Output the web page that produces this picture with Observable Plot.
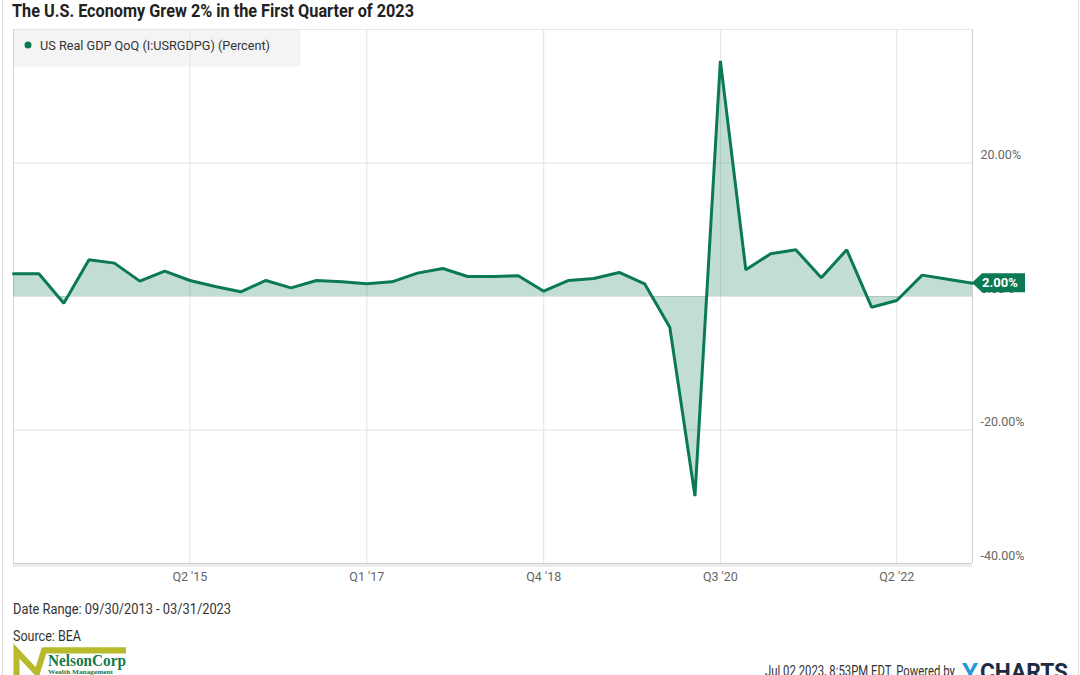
<!DOCTYPE html>
<html><head><meta charset="utf-8">
<script src="https://cdn.jsdelivr.net/npm/d3@7"></script>
<script src="https://cdn.jsdelivr.net/npm/@observablehq/plot@0.6"></script>
<style>
html,body{margin:0;padding:0;background:#fff;}
body{width:1080px;height:675px;position:relative;overflow:hidden;font-family:Roboto,sans-serif;}
.edge{position:absolute;top:0;width:1px;height:675px;background:#dcdcdc;}
#title{position:absolute;left:0;top:0;}
#chart{position:absolute;left:0;top:22px;}
#footer{position:absolute;left:0;top:590px;}
</style>
</head><body>
<div class="edge" style="left:2px"></div>
<div class="edge" style="left:1078px"></div>
<svg id="title" width="1080" height="22"></svg>
<div id="chart"></div>
<svg id="footer" width="1080" height="85"></svg>
<script>
// ---- data ----
const titleText = "The U.S. Economy Grew 2% in the First Quarter of 2023";
const seriesName = "US Real GDP QoQ (I:USRGDPG) (Percent)";
const dates = [
  "2013-09-30","2013-12-31",
  "2014-03-31","2014-06-30","2014-09-30","2014-12-31",
  "2015-03-31","2015-06-30","2015-09-30","2015-12-31",
  "2016-03-31","2016-06-30","2016-09-30","2016-12-31",
  "2017-03-31","2017-06-30","2017-09-30","2017-12-31",
  "2018-03-31","2018-06-30","2018-09-30","2018-12-31",
  "2019-03-31","2019-06-30","2019-09-30","2019-12-31",
  "2020-03-31","2020-06-30","2020-09-30","2020-12-31",
  "2021-03-31","2021-06-30","2021-09-30","2021-12-31",
  "2022-03-31","2022-06-30","2022-09-30","2022-12-31",
  "2023-03-31"
];
const values = [
  3.4, 3.4,
  -1.0, 5.5, 5.0, 2.3,
  3.8, 2.4, 1.5, 0.7,
  2.4, 1.3, 2.4, 2.2,
  1.9, 2.2, 3.5, 4.2,
  3.0, 3.0, 3.1, 0.8,
  2.4, 2.7, 3.6, 1.9,
  -4.6, -29.9, 35.3, 4.0,
  6.4, 7.0, 2.8, 7.0,
  -1.6, -0.6, 3.2, 2.6,
  2.0
];
const xTickDates = ["2015-06-30","2017-03-31","2018-12-31","2020-09-30","2022-06-30"];
const xTickLabels = ["Q2 '15","Q1 '17","Q4 '18","Q3 '20","Q2 '22"];
const yTicks = [20, 0, -20, -40];
const yDomain = [-40, 40];
const dateRangeText = "Date Range: 09/30/2013 - 03/31/2023";
const sourceText = "Source: BEA";
const stampText = "Jul 02 2023, 8:53PM EDT.  Powered by";

const GREEN = "#0b7a52";

const data = dates.map((d, i) => ({date: new Date(d), value: values[i]}));
const tickDates = xTickDates.map(d => new Date(d));
const tickLabelMap = new Map(tickDates.map((d, i) => [+d, xTickLabels[i]]));
const last = data[data.length - 1];

// ---- helper for condensed-looking text ----
function addText(svg, txt, o) {
  const t = svg.append("text").attr("x", o.x).attr("y", o.y)
    .attr("text-anchor", "start")
    .attr("font-family", o.family || "Roboto")
    .attr("font-size", o.size).attr("font-weight", o.weight || "normal")
    .attr("fill", o.fill || "#333").text(txt);
  if (o.length) t.attr("textLength", o.length).attr("lengthAdjust", "spacingAndGlyphs");
  return t;
}

// ---- title ----
addText(d3.select("#title"), titleText, {x: 12, y: 17, size: 18, weight: "bold", fill: "#222", length: 402});

// ---- legend (drawn inside the plot frame, below the grid) ----
function legendBox(index, scales, values, dim) {
  const g = d3.create("svg:g");
  g.append("rect").attr("x", dim.marginLeft + 0.5).attr("y", dim.marginTop + 0.5)
    .attr("width", 287).attr("height", 37).attr("fill", "#f4f4f4");
  return g.node();
}
function legendText(index, scales, values, dim) {
  const g = d3.create("svg:g").attr("text-anchor", "start");
  g.append("circle").attr("cx", dim.marginLeft + 15).attr("cy", dim.marginTop + 16)
    .attr("r", 3.5).attr("fill", GREEN);
  g.append("text").attr("x", dim.marginLeft + 27).attr("y", dim.marginTop + 16)
    .attr("dy", "0.35em").attr("text-anchor", "start")
    .attr("font-size", 13).attr("fill", "#333")
    .attr("textLength", 230).attr("lengthAdjust", "spacingAndGlyphs")
    .text(seriesName);
  return g.node();
}
// ---- last-value tag ----
function lastTag(index, scales) {
  const x = scales.x(last.date), y = scales.y(last.value);
  const g = d3.create("svg:g");
  g.append("path")
    .attr("d", `M${x},${y} L${x + 10},${y - 9.5} L${x + 53},${y - 9.5} L${x + 53},${y + 9.5} L${x + 10},${y + 9.5} Z`)
    .attr("fill", GREEN);
  g.append("text").attr("x", x + 28).attr("y", y).attr("dy", "0.36em")
    .attr("text-anchor", "middle").attr("fill", "#fff")
    .attr("font-size", 13).attr("font-weight", "bold")
    .text(last.value.toFixed(2) + "%");
  return g.node();
}

const chart = Plot.plot({
  width: 1080,
  height: 568,
  marginLeft: 13,
  marginRight: 108,
  marginTop: 7,
  marginBottom: 27,
  style: {fontFamily: "Roboto", fontSize: "12.5px", color: "#666", background: "transparent"},
  x: {type: "utc", domain: [data[0].date, last.date], label: null},
  y: {domain: yDomain, label: null},
  marks: [
    legendBox,
    Plot.gridX(tickDates, {stroke: "#e2e2e2", strokeOpacity: 1}),
    Plot.gridY([20, 0, -20], {stroke: "#e2e2e2", strokeOpacity: 1}),
    Plot.ruleY([40], {stroke: "#e6e6e6"}),
    Plot.ruleX([data[0].date], {stroke: "#d6d6d6"}),
    Plot.ruleX([last.date], {stroke: "#cfcfcf"}),
    Plot.ruleY([-40], {stroke: "#ececec", strokeWidth: 3, dy: 2}),
    Plot.ruleY([-40], {stroke: "#cfcfcf"}),
    legendText,
    Plot.areaY(data, {x: "date", y: "value", fill: GREEN, fillOpacity: 0.25}),
    Plot.lineY(data, {x: "date", y: "value", stroke: GREEN, strokeWidth: 3, strokeLinejoin: "miter"}),
    Plot.axisX({ticks: tickDates, tickSize: 0, tickPadding: 9, tickFormat: d => tickLabelMap.get(+d), fill: "#666"}),
    Plot.axisY({anchor: "right", ticks: yTicks, tickSize: 0, tickPadding: 8, dy: -8,
      tickFormat: d => d.toFixed(2) + "%", fill: "#666"}),
    lastTag
  ]
});
document.getElementById("chart").appendChild(chart);

// ---- footer ----
const f = d3.select("#footer");
addText(f, dateRangeText, {x: 13, y: 23.5, size: 15, fill: "#333", length: 218});
addText(f, sourceText, {x: 13, y: 50.5, size: 15, fill: "#333", length: 68});
// logo
const logo = f.append("g");
logo.append("path").attr("d", "M16.5,85 L16.5,61 L37,83 L44,60.5 L126,60.5")
  .attr("fill", "none").attr("stroke", "#b6ba2c").attr("stroke-width", 6).attr("stroke-linejoin", "miter");
logo.append("rect").attr("x", 44).attr("y", 57.5).attr("width", 82).attr("height", 3).attr("fill", "#b6ba2c");
addText(logo, "NelsonCorp", {x: 48, y: 75.5, size: 17, weight: "bold", fill: "#16794a", family: "Liberation Serif", length: 78});
addText(logo, "Wealth Management", {x: 48, y: 84, size: 7, weight: "bold", fill: "#16794a", family: "Liberation Serif", length: 65});
// stamp
addText(f, stampText, {x: 765, y: 86, size: 15, fill: "#333", length: 190});
addText(f, "Y", {x: 962, y: 90, size: 23, weight: "bold", fill: "#1e9ad6", length: 16});
addText(f, "CHARTS", {x: 980, y: 90, size: 23, weight: "bold", fill: "#1d2b44", length: 88});
</script>
</body></html>
